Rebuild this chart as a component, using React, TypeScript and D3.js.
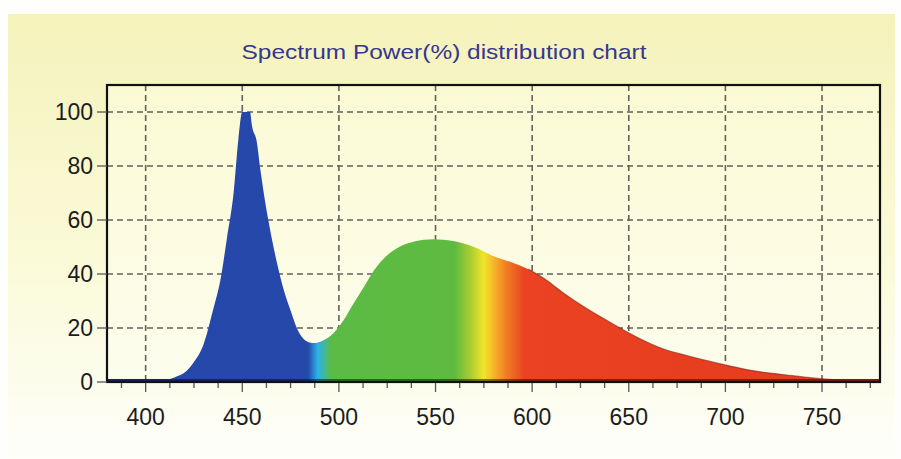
import React, { useRef, useEffect } from "react";
import * as d3 from "d3";

// wavelength (nm) and relative power (%)
const wavelengths = [
  380, 390, 400, 405, 410, 413, 416, 420, 425, 430, 435, 439, 442, 445.5, 448,
  450, 454, 455, 457.5, 459.5, 462, 464.5, 468, 471.5, 475, 478.5, 483, 487,
  492, 497, 502.5, 507.5, 513, 518, 523, 530, 539, 549, 559, 570, 580, 590,
  598, 606, 616.5, 627, 637, 647.5, 658, 668, 680, 691, 702, 712.5, 723, 733,
  744, 754, 764.5, 775, 780,
];
const power = [
  0.6, 0.6, 0.5, 0.6, 0.8, 1.2, 2.0, 3.4, 7.4, 14, 27, 39, 53, 70, 90, 100,
  100, 95, 89, 78, 66, 56, 44, 34, 26.5, 19.5, 15.2, 14.4, 15.5, 18, 23, 29,
  35.3, 41.2, 45.6, 49.5, 52, 52.9, 52.2, 50, 46.6, 44.2, 41.8, 38.4, 32.8,
  27.8, 23.5, 19.2, 15.3, 12.2, 9.8, 7.8, 6.0, 4.4, 3.3, 2.5, 1.6, 1.0, 0.6,
  0.3, 0.2,
];
const xTicks = [400, 450, 500, 550, 600, 650, 700, 750];
const yTicks = [0, 20, 40, 60, 80, 100];
const title = "Spectrum Power(%) distribution chart";

// colour of the fill along the wavelength axis
const spectrumStops: [number, string][] = [
  [380, "#2447a9"],
  [484, "#2548aa"],
  [489, "#2bb2e8"],
  [496, "#5cbb45"],
  [560, "#5fbb40"],
  [568, "#a9cc32"],
  [575, "#f2e52a"],
  [580, "#f6b628"],
  [587, "#f17a24"],
  [596, "#ea4222"],
  [780, "#e63a1e"],
];

const W = 901;
const H = 459;
const margin = { top: 85, right: 21, bottom: 77, left: 107 };

export default function App() {
  const svgRef = useRef<SVGSVGElement>(null);

  useEffect(() => {
    if (!svgRef.current) return;
    const svg = d3.select(svgRef.current);
    svg.selectAll("*").remove();

    const x = d3.scaleLinear().domain([380, 780]).range([margin.left, W - margin.right]);
    const y = d3.scaleLinear().domain([0, 110]).range([H - margin.bottom, margin.top]);
    const [x0, x1] = x.range();
    const [yb, yt] = y.range();

    const defs = svg.append("defs");
    const bg = defs.append("linearGradient").attr("id", "bg").attr("x1", 0).attr("y1", 0).attr("x2", 0).attr("y2", 1);
    bg.append("stop").attr("offset", "0%").attr("stop-color", "#f5f2bb");
    bg.append("stop").attr("offset", "55%").attr("stop-color", "#fafad8");
    bg.append("stop").attr("offset", "100%").attr("stop-color", "#fefefa");

    const plotBg = defs.append("linearGradient").attr("id", "plotbg").attr("x1", 0).attr("y1", 0).attr("x2", 0).attr("y2", 1);
    plotBg.append("stop").attr("offset", "0%").attr("stop-color", "#fbfad4");
    plotBg.append("stop").attr("offset", "100%").attr("stop-color", "#fdfdee");

    const spec = defs.append("linearGradient").attr("id", "spec")
      .attr("gradientUnits", "userSpaceOnUse").attr("x1", x0).attr("x2", x1).attr("y1", 0).attr("y2", 0);
    spectrumStops.forEach(([nm, c]) => {
      spec.append("stop").attr("offset", (nm - 380) / 400).attr("stop-color", c);
    });
    const specDark = defs.append("linearGradient").attr("id", "specdark")
      .attr("gradientUnits", "userSpaceOnUse").attr("x1", x0).attr("x2", x1).attr("y1", 0).attr("y2", 0);
    spectrumStops.forEach(([nm, c]) => {
      specDark.append("stop").attr("offset", (nm - 380) / 400)
        .attr("stop-color", d3.color(c)!.darker(1.8).formatHex());
    });

    // page background
    svg.append("rect").attr("width", W).attr("height", H).attr("fill", "#fefefc");
    svg.append("rect").attr("x", 8).attr("y", 14).attr("width", W - 14).attr("height", H - 14).attr("fill", "url(#bg)");

    // title
    svg.append("text")
      .attr("x", 444).attr("y", 59)
      .attr("text-anchor", "middle")
      .attr("font-family", "Liberation Sans, Arial, sans-serif")
      .attr("font-size", 21)
      .attr("textLength", 405)
      .attr("lengthAdjust", "spacingAndGlyphs")
      .attr("fill", "#37378f")
      .text(title);

    // plot area
    svg.append("rect").attr("x", x0).attr("y", yt).attr("width", x1 - x0).attr("height", yb - yt).attr("fill", "url(#plotbg)");

    const grid = svg.append("g").attr("stroke", "#62625a").attr("stroke-width", 1.6).attr("stroke-dasharray", "6,4");
    yTicks.filter((t) => t > 0).forEach((t) => {
      grid.append("line").attr("x1", x0).attr("x2", x1).attr("y1", y(t)).attr("y2", y(t));
    });
    xTicks.forEach((t) => {
      grid.append("line").attr("x1", x(t)).attr("x2", x(t)).attr("y1", yt).attr("y2", yb);
    });

    // spectrum area
    const pts = wavelengths.map((w, i) => [w, power[i]] as [number, number]);
    const area = d3.area<[number, number]>()
      .x((d) => x(d[0]))
      .y0(yb)
      .y1((d) => y(d[1]))
      .curve(d3.curveMonotoneX);
    svg.append("path").datum(pts).attr("d", area).attr("fill", "url(#spec)");

    const edge = d3.line<[number, number]>()
      .x((d) => x(d[0]))
      .y((d) => y(d[1]))
      .curve(d3.curveMonotoneX);
    svg.append("path").datum(pts.filter((d) => d[0] >= 598))
      .attr("d", edge).attr("fill", "none").attr("stroke", "#7a1a12").attr("stroke-opacity", 0.55).attr("stroke-width", 1.2);

    // dark baseline under the fill
    svg.append("rect").attr("x", x0).attr("y", yb - 3).attr("width", x1 - x0).attr("height", 3).attr("fill", "url(#specdark)");

    // frame
    svg.append("rect").attr("x", x0).attr("y", yt).attr("width", x1 - x0).attr("height", yb - yt)
      .attr("fill", "none").attr("stroke", "#111").attr("stroke-width", 2.2);

    // ticks
    const tk = svg.append("g").attr("stroke", "#555").attr("stroke-width", 1.3);
    yTicks.forEach((t) => {
      tk.append("line").attr("x1", x0 - 10).attr("x2", x0).attr("y1", y(t)).attr("y2", y(t));
    });
    d3.range(387.5, 780, 12.5).forEach((t) => {
      const major = xTicks.includes(t);
      tk.append("line").attr("x1", x(t)).attr("x2", x(t)).attr("y1", yb + 1).attr("y2", yb + (major ? 10 : 6));
    });

    const lab = svg.append("g")
      .attr("font-family", "Liberation Sans, Arial, sans-serif")
      .attr("font-size", 23)
      .attr("fill", "#1c1c1c");
    yTicks.forEach((t) => {
      lab.append("text").attr("x", x0 - 14).attr("y", y(t)).attr("dy", "0.36em")
        .attr("text-anchor", "end").text(t);
    });
    xTicks.forEach((t) => {
      lab.append("text").attr("x", x(t)).attr("y", 425)
        .attr("text-anchor", "middle").text(t);
    });
  }, []);

  return (
    <svg
      ref={svgRef}
      width={W}
      height={H}
      style={{ position: "absolute", left: 0, top: 0 }}
    />
  );
}
